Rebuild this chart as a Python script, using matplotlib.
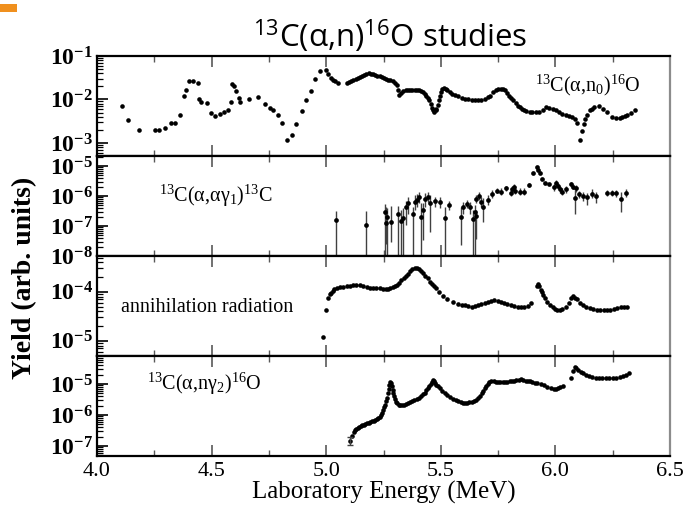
import numpy as np
import matplotlib
matplotlib.use('Agg')
import matplotlib.pyplot as plt
from matplotlib.ticker import LogLocator, MultipleLocator, FixedLocator, NullFormatter
from matplotlib.patches import Rectangle

plt.rcParams['font.family'] = 'Liberation Serif'
plt.rcParams['mathtext.fontset'] = 'custom'
plt.rcParams['mathtext.default'] = 'regular'

# 13C(a,n0)16O
e1 = [4.111, 4.134, 4.185, 4.252, 4.271, 4.296, 4.321, 4.340, 4.360, 4.378, 4.390, 4.403,
      4.421, 4.440, 4.443, 4.455, 4.478, 4.497, 4.516, 4.535, 4.554, 4.573, 4.583, 4.589,
      4.596, 4.608, 4.621, 4.625, 4.663, 4.703, 4.732, 4.755, 4.768, 4.789, 4.808, 4.831,
      4.850, 4.870, 4.894, 4.912, 4.932, 4.952, 4.971, 4.998, 5.009, 5.023, 5.030, 5.038,
      5.050, 5.090, 5.100, 5.108, 5.118, 5.128, 5.138, 5.147, 5.156, 5.166, 5.175, 5.185,
      5.195, 5.204, 5.214, 5.223, 5.233, 5.242, 5.252, 5.262, 5.271, 5.280, 5.290, 5.300,
      5.309, 5.315, 5.319, 5.328, 5.337, 5.347, 5.357, 5.367, 5.376, 5.386, 5.395, 5.405,
      5.414, 5.424, 5.431, 5.437, 5.443, 5.449, 5.456, 5.462, 5.467, 5.472, 5.477, 5.481,
      5.486, 5.491, 5.496, 5.500, 5.507, 5.514, 5.521, 5.529, 5.538, 5.548, 5.562, 5.577,
      5.591, 5.606, 5.620, 5.634, 5.648, 5.663, 5.677, 5.691, 5.704, 5.716, 5.728, 5.739,
      5.751, 5.762, 5.771, 5.780, 5.789, 5.797, 5.806, 5.816, 5.826, 5.835, 5.845, 5.854,
      5.864, 5.873, 5.887, 5.900, 5.915, 5.930, 5.945, 5.960, 5.974, 5.988, 6.002, 6.016,
      6.030, 6.045, 6.060, 6.074, 6.084, 6.093, 6.106, 6.118, 6.125, 6.131, 6.140, 6.150,
      6.160, 6.169, 6.189, 6.208, 6.227, 6.246, 6.265, 6.280, 6.290, 6.302, 6.313, 6.330,
      6.347]
y1 = [6.9e-3, 3.3e-3, 2.0e-3, 1.95e-3, 2.0e-3, 2.25e-3, 2.9e-3, 2.9e-3, 4.3e-3, 1.2e-2, 1.65e-2, 2.6e-2,
      2.6e-2, 2.4e-2, 1.0e-2, 8.7e-3, 8.3e-3, 4.9e-3, 4.2e-3, 4.6e-3, 5.1e-3, 5.6e-3, 8.7e-3, 2.3e-2,
      2.0e-2, 1.55e-2, 1.07e-2, 8.7e-3, 1.0e-2, 1.12e-2, 7.9e-3, 6.3e-3, 5.7e-3, 4.3e-3, 2.95e-3, 1.15e-3,
      1.5e-3, 2.7e-3, 5.4e-3, 9.5e-3, 1.6e-2, 2.9e-2, 4.6e-2, 4.8e-2, 3.9e-2, 3.2e-2, 2.8e-2, 2.6e-2,
      2.35e-2, 2.35e-2, 2.5e-2, 2.6e-2, 2.8e-2, 2.95e-2, 3.1e-2, 3.25e-2, 3.5e-2, 3.7e-2, 3.85e-2, 4.0e-2,
      3.95e-2, 3.9e-2, 3.7e-2, 3.55e-2, 3.4e-2, 3.25e-2, 3.1e-2, 2.95e-2, 2.85e-2, 2.75e-2, 2.6e-2, 2.35e-2,
      2.1e-2, 1.65e-2, 1.3e-2, 1.4e-2, 1.55e-2, 1.62e-2, 1.65e-2, 1.66e-2, 1.66e-2, 1.66e-2, 1.67e-2, 1.66e-2,
      1.6e-2, 1.5e-2, 1.35e-2, 1.23e-2, 1.1e-2, 9.5e-3, 8.0e-3, 6.5e-3, 5.8e-3, 5.1e-3, 5.6e-3, 6.2e-3,
      7.5e-3, 9.5e-3, 1.2e-2, 1.48e-2, 1.75e-2, 1.85e-2, 1.75e-2, 1.65e-2, 1.5e-2, 1.35e-2, 1.25e-2, 1.18e-2,
      1.1e-2, 1.05e-2, 1.0e-2, 9.8e-3, 9.6e-3, 9.5e-3, 9.8e-3, 1.05e-2, 1.12e-2, 1.23e-2, 1.45e-2, 1.62e-2,
      1.7e-2, 1.75e-2, 1.7e-2, 1.62e-2, 1.4e-2, 1.23e-2, 1.08e-2, 9.5e-3, 8.2e-3, 7.2e-3, 6.6e-3, 6.2e-3,
      5.8e-3, 5.4e-3, 5.2e-3, 5.1e-3, 5.1e-3, 5.1e-3, 5.8e-3, 6.6e-3, 6.4e-3, 6.2e-3, 5.6e-3, 5.1e-3,
      4.7e-3, 4.5e-3, 4.2e-3, 4.0e-3, 3.6e-3, 2.9e-3, 1.15e-3, 1.85e-3, 2.8e-3, 3.6e-3, 4.4e-3, 5.6e-3,
      6.2e-3, 6.6e-3, 7.2e-3, 6.2e-3, 5.1e-3, 4.0e-3, 3.8e-3, 3.8e-3, 4.0e-3, 4.1e-3, 4.3e-3, 4.8e-3,
      5.6e-3]

# 13C(a,a g1)13C with error bars (lower end 1e-9 = runs off the axis)
e2 = [5.044, 5.175, 5.258, 5.262, 5.266, 5.281, 5.313, 5.328, 5.335, 5.349, 5.356, 5.378,
      5.388, 5.397, 5.403, 5.412, 5.422, 5.432, 5.444, 5.451, 5.476, 5.495, 5.517, 5.535,
      5.586, 5.597, 5.616, 5.626, 5.641, 5.648, 5.652, 5.655, 5.665, 5.677, 5.684, 5.706,
      5.725, 5.747, 5.764, 5.786, 5.805, 5.812, 5.820, 5.825, 5.844, 5.863, 5.883, 5.902,
      5.921, 5.926, 5.934, 5.941, 5.955, 5.974, 5.993, 6.004, 6.011, 6.018, 6.028, 6.048,
      6.070, 6.078, 6.085, 6.092, 6.102, 6.121, 6.140, 6.161, 6.179, 6.223, 6.245, 6.266,
      6.285, 6.306]
y2 = [1.6e-7, 1.07e-7, 2.9e-7, 1.23e-7, 2.0e-7, 1.4e-7, 2.5e-7, 1.5e-7, 1.8e-7, 4.2e-7, 5.7e-7, 2.5e-7,
      6.5e-7, 7.4e-7, 9.5e-7, 2.0e-7, 3.4e-7, 7.8e-7, 9.5e-7, 5.7e-7, 6.9e-7, 6.3e-7, 1.9e-7, 5.0e-7,
      2.0e-7, 4.4e-7, 5.4e-7, 4.2e-7, 1.66e-7, 3.0e-7, 2.1e-7, 7.8e-7, 1.0e-6, 6.5e-7, 4.2e-7, 7.4e-7,
      1.17e-6, 1.5e-6, 1.35e-6, 1.8e-6, 1.23e-6, 1.66e-6, 1.95e-6, 1.5e-6, 1.4e-6, 1.4e-6, 2.3e-6, 6.0e-6,
      9.1e-6, 7.4e-6, 5.7e-6, 3.6e-6, 2.8e-6, 2.5e-6, 1.95e-6, 2.6e-6, 2.1e-6, 1.66e-6, 1.4e-6, 1.66e-6,
      2.5e-6, 2.0e-6, 8.3e-7, 1.8e-6, 1.17e-6, 1.0e-6, 9.1e-7, 1.17e-6, 1.0e-6, 1.3e-6, 1.3e-6, 1.23e-6,
      7.8e-7, 1.23e-6]
hi2 = [3.2e-7, 3.2e-7, 5.4e-7, 4.4e-7, 3.9e-7, 4.6e-7, 4.8e-7, 3.4e-7, 3.9e-7, 7.0e-7, 9.5e-7, 4.4e-7,
       1.08e-6, 1.17e-6, 1.4e-6, 5.7e-7, 5.7e-7, 1.23e-6, 1.4e-6, 1.08e-6, 9.5e-7, 9.0e-7, 4.2e-7, 7.0e-7,
       4.4e-7, 6.5e-7, 7.4e-7, 6.5e-7, 3.4e-7, 5.0e-7, 3.4e-7, 1.08e-6, 1.4e-6, 9.5e-7, 8.4e-7, 1.08e-6,
       1.6e-6, 1.8e-6, 1.8e-6, 2.15e-6, 1.6e-6, 2.15e-6, 2.5e-6, 2.05e-6, 1.8e-6, 1.8e-6, 2.8e-6, 6.0e-6,
       9.1e-6, 7.4e-6, 5.7e-6, 3.6e-6, 2.8e-6, 2.5e-6, 2.5e-6, 3.4e-6, 2.8e-6, 2.15e-6, 1.8e-6, 2.15e-6,
       3.0e-6, 2.5e-6, 1.6e-6, 2.3e-6, 1.5e-6, 1.4e-6, 1.3e-6, 1.67e-6, 1.4e-6, 1.6e-6, 1.6e-6, 1.6e-6,
       1.4e-6, 1.67e-6]
lo2 = [1e-9, 1e-9, 1e-9, 2.6e-8, 1e-9, 3.0e-8, 1e-9, 1e-9, 1e-9, 1.08e-7, 2.6e-7, 1e-9,
       3.4e-7, 4.4e-7, 5.7e-7, 1e-9, 3.4e-8, 4.4e-7, 6.5e-7, 6.5e-8, 4.4e-7, 3.9e-7, 1e-9, 3.4e-7,
       2.3e-8, 2.6e-7, 3.9e-7, 2.6e-7, 1e-9, 1e-9, 3.6e-8, 5.7e-7, 7.4e-7, 4.4e-7, 1.4e-7, 5.0e-7,
       8.4e-7, 1.23e-6, 1.08e-6, 1.5e-6, 1.0e-6, 1.3e-6, 1.5e-6, 1.17e-6, 1.08e-6, 1.08e-6, 1.95e-6, 6.0e-6,
       9.1e-6, 7.4e-6, 5.7e-6, 3.6e-6, 2.8e-6, 2.5e-6, 1.5e-6, 2.05e-6, 1.67e-6, 1.3e-6, 1.08e-6, 1.3e-6,
       1.95e-6, 1.67e-6, 2.6e-7, 1.4e-6, 8.4e-7, 7.0e-7, 5.0e-7, 8.4e-7, 6.0e-7, 1.0e-6, 1.0e-6, 9.5e-7,
       3.0e-7, 9.0e-7]

# annihilation radiation
e3 = [4.988, 4.998, 5.007, 5.015, 5.023, 5.030, 5.036, 5.048, 5.061, 5.075, 5.090, 5.104,
      5.118, 5.132, 5.147, 5.161, 5.176, 5.190, 5.204, 5.219, 5.233, 5.248, 5.262, 5.271,
      5.280, 5.290, 5.300, 5.310, 5.319, 5.328, 5.338, 5.347, 5.357, 5.367, 5.376, 5.386,
      5.395, 5.405, 5.414, 5.424, 5.433, 5.443, 5.452, 5.462, 5.470, 5.478, 5.491, 5.510,
      5.529, 5.552, 5.577, 5.592, 5.606, 5.620, 5.634, 5.648, 5.663, 5.677, 5.691, 5.706,
      5.720, 5.734, 5.748, 5.762, 5.777, 5.791, 5.806, 5.820, 5.835, 5.850, 5.865, 5.880,
      5.892, 5.918, 5.924, 5.930, 5.935, 5.941, 5.948, 5.955, 5.965, 5.976, 5.988, 5.998,
      6.008, 6.018, 6.030, 6.045, 6.060, 6.070, 6.077, 6.085, 6.093, 6.106, 6.120, 6.135,
      6.150, 6.165, 6.180, 6.195, 6.210, 6.225, 6.240, 6.255, 6.270, 6.285, 6.298, 6.312]
y3 = [1.17e-5, 4.2e-5, 7.6e-5, 9.0e-5, 9.5e-5, 1.05e-4, 1.12e-4, 1.18e-4, 1.23e-4, 1.27e-4, 1.29e-4, 1.32e-4,
      1.35e-4, 1.35e-4, 1.35e-4, 1.32e-4, 1.26e-4, 1.22e-4, 1.2e-4, 1.18e-4, 1.17e-4, 1.14e-4, 1.12e-4, 1.15e-4,
      1.2e-4, 1.25e-4, 1.29e-4, 1.38e-4, 1.5e-4, 1.7e-4, 1.9e-4, 2.1e-4, 2.3e-4, 2.6e-4, 2.85e-4, 3.0e-4,
      3.05e-4, 2.9e-4, 2.65e-4, 2.4e-4, 2.1e-4, 1.9e-4, 1.6e-4, 1.42e-4, 1.3e-4, 1.2e-4, 1.0e-4, 8.1e-5,
      7.1e-5, 6.2e-5, 5.7e-5, 5.5e-5, 5.3e-5, 5.1e-5, 5.0e-5, 5.1e-5, 5.4e-5, 5.7e-5, 6.0e-5, 6.2e-5,
      6.5e-5, 6.7e-5, 6.5e-5, 6.2e-5, 5.9e-5, 5.6e-5, 5.3e-5, 5.1e-5, 4.9e-5, 4.8e-5, 4.85e-5, 5.1e-5,
      6.0e-5, 1.3e-4, 1.45e-4, 1.3e-4, 1.1e-4, 1.0e-4, 8.5e-5, 7.5e-5, 6.3e-5, 5.3e-5, 4.8e-5, 4.4e-5,
      4.3e-5, 4.25e-5, 4.5e-5, 5.0e-5, 6.0e-5, 7.6e-5, 8.2e-5, 7.6e-5, 7.0e-5, 6.0e-5, 5.4e-5, 5.0e-5,
      4.6e-5, 4.5e-5, 4.3e-5, 4.3e-5, 4.3e-5, 4.3e-5, 4.35e-5, 4.45e-5, 4.6e-5, 4.8e-5, 5.0e-5, 5.0e-5]

# 13C(a,n g2)16O
e4 = [5.105, 5.114, 5.120, 5.126, 5.132, 5.138, 5.143, 5.150, 5.156, 5.163, 5.170, 5.178,
      5.185, 5.193, 5.200, 5.207, 5.214, 5.220, 5.227, 5.233, 5.239, 5.244, 5.248, 5.253,
      5.258, 5.262, 5.266, 5.270, 5.273, 5.276, 5.279, 5.283, 5.287, 5.290, 5.292, 5.296,
      5.300, 5.305, 5.309, 5.316, 5.323, 5.330, 5.338, 5.347, 5.357, 5.366, 5.376, 5.385,
      5.395, 5.404, 5.414, 5.422, 5.430, 5.437, 5.443, 5.450, 5.457, 5.462, 5.466, 5.471,
      5.476, 5.481, 5.487, 5.496, 5.506, 5.517, 5.529, 5.540, 5.552, 5.565, 5.577, 5.586,
      5.596, 5.605, 5.615, 5.625, 5.634, 5.644, 5.653, 5.663, 5.672, 5.679, 5.686, 5.692,
      5.697, 5.704, 5.711, 5.720, 5.730, 5.740, 5.750, 5.760, 5.770, 5.780, 5.790, 5.800,
      5.810, 5.820, 5.830, 5.840, 5.850, 5.860, 5.870, 5.880, 5.890, 5.900, 5.910, 5.920,
      5.935, 5.950, 5.965, 5.980, 5.992, 6.002, 6.012, 6.022, 6.032, 6.070, 6.078, 6.085,
      6.092, 6.100, 6.110, 6.120, 6.132, 6.145, 6.160, 6.175, 6.190, 6.205, 6.220, 6.235,
      6.250, 6.265, 6.280, 6.295, 6.310, 6.322]
y4 = [1.5e-7, 2.1e-7, 2.75e-7, 3.2e-7, 3.6e-7, 3.8e-7, 4.1e-7, 4.3e-7, 4.7e-7, 4.9e-7, 5.2e-7, 5.4e-7,
      5.7e-7, 6.0e-7, 6.3e-7, 6.5e-7, 6.8e-7, 7.2e-7, 7.8e-7, 8.8e-7, 1.0e-6, 1.2e-6, 1.48e-6, 1.8e-6,
      2.15e-6, 2.8e-6, 3.6e-6, 5.0e-6, 6.8e-6, 9.5e-6, 1.15e-5, 1.05e-5, 8.7e-6, 6.5e-6, 5.2e-6, 4.0e-6,
      3.2e-6, 2.6e-6, 2.35e-6, 2.1e-6, 2.05e-6, 2.1e-6, 2.15e-6, 2.3e-6, 2.45e-6, 2.6e-6, 2.75e-6, 3.0e-6,
      3.3e-6, 3.6e-6, 4.1e-6, 4.6e-6, 5.2e-6, 6.2e-6, 7.2e-6, 8.5e-6, 1.0e-5, 1.15e-5, 1.3e-5, 1.2e-5,
      1.07e-5, 9.5e-6, 8.3e-6, 7.2e-6, 6.0e-6, 5.0e-6, 4.4e-6, 3.8e-6, 3.4e-6, 3.0e-6, 2.75e-6, 2.55e-6,
      2.45e-6, 2.45e-6, 2.45e-6, 2.55e-6, 2.65e-6, 2.85e-6, 3.15e-6, 3.6e-6, 4.1e-6, 5.0e-6, 6.0e-6, 7.5e-6,
      8.3e-6, 1.0e-5, 1.15e-5, 1.2e-5, 1.2e-5, 1.18e-5, 1.15e-5, 1.12e-5, 1.15e-5, 1.13e-5, 1.17e-5, 1.22e-5,
      1.2e-5, 1.25e-5, 1.3e-5, 1.33e-5, 1.4e-5, 1.3e-5, 1.25e-5, 1.25e-5, 1.2e-5, 1.15e-5, 1.1e-5, 1.05e-5,
      9.8e-6, 9.0e-6, 8.2e-6, 7.5e-6, 7.0e-6, 6.8e-6, 7.2e-6, 7.8e-6, 8.5e-6, 1.6e-5, 2.7e-5, 3.4e-5,
      3.2e-5, 2.8e-5, 2.5e-5, 2.2e-5, 1.9e-5, 1.75e-5, 1.65e-5, 1.6e-5, 1.55e-5, 1.52e-5, 1.5e-5, 1.5e-5,
      1.52e-5, 1.6e-5, 1.7e-5, 1.85e-5, 2.0e-5, 2.2e-5]
# error bar on the lowest gamma-2 point
e4_err = [5.105]
y4_err = [1.5e-7]
lo4_err = [1.05e-7]
hi4_err = [2.0e-7]

labels = [r'$^{13}$C(α,n$_0$)$^{16}$O', r'$^{13}$C(α,αγ$_1$)$^{13}$C',
          'annihilation radiation', r'$^{13}$C(α,nγ$_2$)$^{16}$O']

fig = plt.figure(figsize=(6.84, 5.05), dpi=100)
L, W = 97/684, 573/684
tops = [56, 156, 256, 356]
axes = []
for t in tops:
    axes.append(fig.add_axes([L, 1 - (t + 100)/505, W, 100/505]))
ax1, ax2, ax3, ax4 = axes

ax1.plot(e1, y1, 'o', color='k', ms=3.3, mew=0)
y2a = np.array(y2)
ax2.errorbar(e2, y2, yerr=[y2a - np.array(lo2), np.array(hi2) - y2a], fmt='o', color='k',
             ms=3.4, mew=0, ecolor='0.25', elinewidth=1.0, capsize=2.0, capthick=1.0)
ax3.plot(e3, y3, 'o', color='k', ms=3.3, mew=0)
ax4.plot(e4, y4, 'o', color='k', ms=3.3, mew=0)
y4e = np.array(y4_err)
ax4.errorbar(e4_err, y4_err, yerr=[y4e - np.array(lo4_err), np.array(hi4_err) - y4e], fmt='none',
             ecolor='0.25', elinewidth=1.0, capsize=2.0, capthick=1.0)

ylims = [(10**-3.3, 1e-1), (1e-8, 10**-4.67), (10**-5.31, 10**-3.27), (10**-7.32, 10**-4.1)]
majors = [[1e-3, 1e-2, 1e-1], [1e-8, 1e-7, 1e-6, 1e-5], [1e-5, 1e-4], [1e-7, 1e-6, 1e-5]]

def fmt_pow(v):
    return r'$10^{%d}$' % int(round(np.log10(v)))

for ax, lim, mj in zip(axes, ylims, majors):
    ax.set_yscale('log')
    ax.set_xlim(4.0, 6.5)
    ax.set_ylim(*lim)
    ax.yaxis.set_major_locator(FixedLocator(mj))
    ax.set_yticklabels([fmt_pow(v) for v in mj])
    ax.yaxis.set_minor_locator(LogLocator(base=10, subs=np.arange(2, 10), numticks=20))
    ax.yaxis.set_minor_formatter(NullFormatter())
    ax.xaxis.set_major_locator(MultipleLocator(0.5))
    ax.xaxis.set_minor_locator(MultipleLocator(0.25))
    ax.tick_params(which='both', direction='in', top=True, right=False)
    ax.tick_params(axis='y', which='major', length=8, width=1.2, labelsize=17, pad=3)
    ax.tick_params(axis='y', which='minor', length=4, width=0.9)
    ax.tick_params(axis='x', which='major', length=8, width=1.2, color='0.35')
    ax.tick_params(axis='x', which='minor', length=4, width=1.0, color='0.35')
    for lab in ax.get_yticklabels():
        lab.set_fontweight('bold')
    for s in ['top', 'bottom', 'left']:
        ax.spines[s].set_linewidth(1.6)
    ax.spines['right'].set_color('0.55')
    ax.spines['right'].set_linewidth(1.6)
    if ax is not ax4:
        ax.tick_params(labelbottom=False)

ax4.set_xticks([4.0, 4.5, 5.0, 5.5, 6.0, 6.5])
ax4.set_xticklabels(['4.0', '4.5', '5.0', '5.5', '6.0', '6.5'])
ax4.tick_params(axis='x', labelsize=16, pad=4)

ax1.text(5.91, 0.021, labels[0], fontsize=14.5, ha='left', va='center')
ax2.text(4.27, 1e-6, labels[1], fontsize=14.5, ha='left', va='center')
ax3.text(4.105, 4.8e-5, labels[2], fontsize=14.5, ha='left', va='center')
ax4.text(4.22, 1e-5, labels[3], fontsize=14.5, ha='left', va='center')

fig.text(L + W/2, 0.024, 'Laboratory Energy (MeV)', fontsize=18, ha='center', va='center')
fig.text(0.036, 0.45, 'Yield (arb. units)', fontsize=20, fontweight='bold', rotation=90,
         ha='center', va='center')
fig.text(0.57, 0.928, r'$^{13}$C(α,n)$^{16}$O studies', family='Open Sans', fontsize=22.5,
         ha='center', va='center')

fig.add_artist(Rectangle((0, 1 - 12/505), 17/684, 8/505, transform=fig.transFigure,
                         color='#f0901e', lw=0))

fig.savefig('out.png', dpi=100)
